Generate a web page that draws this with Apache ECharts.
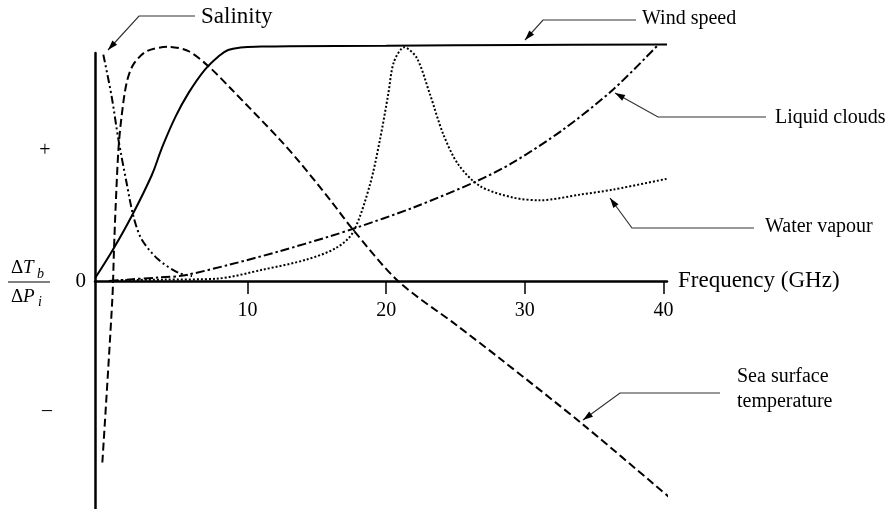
<!DOCTYPE html>
<html>
<head>
<meta charset="utf-8">
<script src="https://cdn.jsdelivr.net/npm/echarts@6/dist/echarts.min.js"></script>
<style>
  html, body { margin: 0; padding: 0; background: #fff; }
  #chart { width: 888px; height: 509px; }
</style>
</head>
<body>
<div id="chart"></div>
<script>
// Sensitivity of brightness temperature to each geophysical parameter,
// relative units, against frequency in GHz.
const freqWind = [-1.0, 0.3, 1.65, 3.1, 3.8, 4.8, 5.75, 6.9, 7.9, 8.6, 9.5, 11, 13, 20, 30, 40.25];
const windSpeed = [1.2, 13.8, 28.5, 46.5, 58, 72, 82.5, 92.5, 98.5, 101.3, 102.4, 102.8, 103, 103.2, 103.5, 103.7];

const freqSST = [-0.47, 0.25, 0.37, 0.49, 0.69, 0.92, 1.28, 1.77, 2.73, 4.3, 5.74, 7.18, 8.86, 12.33, 13.77, 15.94, 17.6, 20.85, 25.1, 28.2, 34.2, 40.6];
const seaSurfaceTemp = [-79.6, -8, 13.8, 32.8, 57.7, 72.3, 86.9, 95, 100.8, 102.7, 100.8, 94.2, 84, 62, 52, 35.7, 22.6, 0, -19.5, -34, -63, -95.8];

const freqSal = [-0.4, 0.2, 0.69, 1.28, 1.77, 2.37, 3.57, 5.02, 6.0];
const salinity = [99.3, 81, 62, 43, 28.4, 18.2, 9.4, 3.6, 2.2];

const freqCloud = [0, 1.5, 3.5, 5.35, 8.72, 12.33, 15.94, 17.62, 21.95, 26.53, 29.15, 32.76, 36.37, 39.52];
const liquidClouds = [0, 0.7, 1.5, 2.4, 7.2, 13.1, 19.6, 22.9, 32.2, 43.8, 52, 66.4, 84, 103];

const freqVap = [0, 1.5, 4, 7.76, 11.12, 14.26, 16.42, 17.62, 18.83, 19.55, 20.15, 20.55, 21.3, 22.2, 23.16, 24.12, 25.2, 26.77, 29.15, 31.1, 33.99, 36.37, 40.7];
const waterVapour = [0, 0.4, 0.6, 1.0, 5.0, 9.4, 14.6, 21.5, 42.3, 62, 82, 96, 102.5, 97.9, 81.8, 64.3, 51.1, 41.6, 36.6, 35.4, 37.9, 40.1, 45.4];

const freqTicks = [10, 20, 30, 40];
const yTicks = [0];

const SERIF = "'Liberation Serif', 'Times New Roman', serif";

function pairs(xs, ys) { return xs.map((x, i) => [x, ys[i]]); }

function curve(name, xs, ys, dash, smooth) {
  return {
    name: name,
    type: 'line',
    data: pairs(xs, ys),
    showSymbol: false,
    smooth: smooth,
    clip: false,
    lineStyle: { color: '#000', width: 2, type: dash }
  };
}

const chart = echarts.init(document.getElementById('chart'), null, { renderer: 'canvas' });

// Leader lines: tip (arrow point), elbow, end of horizontal run
const callouts = [
  { text: 'Salinity', tip: [108, 50], elbow: [139, 16], end: [195, 16], tx: 201, ty: 17, size: 23 },
  { text: 'Wind speed', tip: [525, 40], elbow: [543, 20], end: [636, 20], tx: 642, ty: 19, size: 20 },
  { text: 'Liquid clouds', tip: [615, 93], elbow: [658, 117], end: [766, 117], tx: 775, ty: 118, size: 20 },
  { text: 'Water vapour', tip: [610, 198], elbow: [632, 228], end: [754, 228], tx: 765, ty: 227, size: 20 },
  { text: 'Sea surface\ntemperature', tip: [583, 420], elbow: [620, 393], end: [720, 393], tx: 737, ty: 389, size: 20 }
];

function arrowHead(tip, from) {
  const dx = from[0] - tip[0], dy = from[1] - tip[1];
  const len = Math.hypot(dx, dy);
  const ux = dx / len, uy = dy / len;
  const L = 10, W = 3.2;
  const bx = tip[0] + ux * L, by = tip[1] + uy * L;
  return [tip, [bx - uy * W, by + ux * W], [bx + uy * W, by - ux * W]];
}

const graphics = [];
callouts.forEach(c => {
  graphics.push({
    type: 'polyline', silent: true,
    shape: { points: [c.tip, c.elbow, c.end] },
    style: { stroke: '#333', lineWidth: 1.2, fill: null }
  });
  graphics.push({
    type: 'polygon', silent: true,
    shape: { points: arrowHead(c.tip, c.elbow) },
    style: { fill: '#000' }
  });
  graphics.push({
    type: 'text', silent: true, x: c.tx, y: c.ty,
    style: {
      text: c.text, font: c.size + 'px ' + SERIF, fill: '#000',
      textAlign: 'left', textVerticalAlign: 'middle', lineHeight: 25
    }
  });
});

// Sign markers and the ΔTb/ΔPi quotient on the vertical axis
graphics.push(
  { type: 'text', silent: true, x: 45, y: 151, style: { text: '+', font: '20px ' + SERIF, fill: '#000', textAlign: 'center', textVerticalAlign: 'middle' } },
  { type: 'text', silent: true, x: 47, y: 411, style: { text: '\u2013', font: '20px ' + SERIF, fill: '#000', textAlign: 'center', textVerticalAlign: 'middle' } },
  { type: 'line', silent: true, shape: { x1: 8, y1: 282, x2: 50, y2: 282 }, style: { stroke: '#000', lineWidth: 1 } },
  { type: 'text', silent: true, x: 11, y: 268, style: { text: '\u0394', font: '19px ' + SERIF, fill: '#000', textAlign: 'left', textVerticalAlign: 'middle' } },
  { type: 'text', silent: true, x: 23, y: 268, style: { text: 'T', font: 'italic 19px ' + SERIF, fill: '#000', textAlign: 'left', textVerticalAlign: 'middle' } },
  { type: 'text', silent: true, x: 37, y: 274, style: { text: 'b', font: 'italic 14px ' + SERIF, fill: '#000', textAlign: 'left', textVerticalAlign: 'middle' } },
  { type: 'text', silent: true, x: 11, y: 297, style: { text: '\u0394', font: '19px ' + SERIF, fill: '#000', textAlign: 'left', textVerticalAlign: 'middle' } },
  { type: 'text', silent: true, x: 23, y: 297, style: { text: 'P', font: 'italic 19px ' + SERIF, fill: '#000', textAlign: 'left', textVerticalAlign: 'middle' } },
  { type: 'text', silent: true, x: 38, y: 302, style: { text: 'i', font: 'italic 14px ' + SERIF, fill: '#000', textAlign: 'left', textVerticalAlign: 'middle' } }
);

chart.setOption({
  animation: false,
  backgroundColor: '#fff',
  grid: { left: 95, right: 221, top: 53, bottom: 0, containLabel: false, outerBoundsMode: 'none' },
  xAxis: {
    type: 'value',
    min: -1,
    max: 40.25,
    // frequency axis drawn through the zero response level
    offset: -228,
    name: 'Frequency (GHz)',
    nameLocation: 'end',
    nameGap: 11,
    nameTextStyle: { fontFamily: SERIF, fontSize: 23, color: '#000', align: 'left', verticalAlign: 'middle', padding: [4, 0, 0, 0] },
    axisLine: { show: true, onZero: false, lineStyle: { color: '#000', width: 2.5 } },
    axisTick: { show: true, customValues: freqTicks, length: 13, lineStyle: { color: '#000', width: 1.5 } },
    axisLabel: { show: true, customValues: freqTicks, margin: 20, fontFamily: SERIF, fontSize: 20, color: '#000' },
    splitLine: { show: false }
  },
  yAxis: {
    type: 'value',
    min: -100,
    max: 100,
    axisLine: { show: true, onZero: false, lineStyle: { color: '#000', width: 2.5 } },
    axisTick: { show: false },
    axisLabel: { show: true, customValues: yTicks, margin: 9, fontFamily: SERIF, fontSize: 21, color: '#000' },
    splitLine: { show: false }
  },
  series: [
    curve('Wind speed', freqWind, windSpeed, 'solid', 0.4),
    curve('Sea surface temperature', freqSST, seaSurfaceTemp, [8, 4], 0.3),
    curve('Salinity', freqSal, salinity, [8, 3, 2, 3, 2, 3], 0.3),
    curve('Liquid clouds', freqCloud, liquidClouds, [9, 3, 2.5, 3], 0.3),
    curve('Water vapour', freqVap, waterVapour, [2, 2], 0.3)
  ],
  graphic: graphics
});
</script>
</body>
</html>
